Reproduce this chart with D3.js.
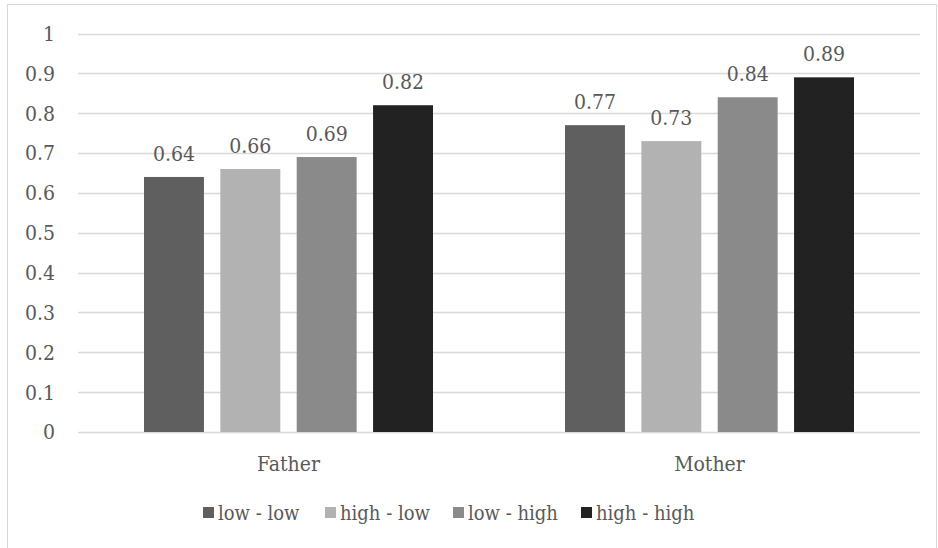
<!DOCTYPE html>
<html><head><meta charset="utf-8">
<script src="https://cdn.jsdelivr.net/npm/d3@7"></script>
<style>
body{margin:0;background:#fff;}
text{font-family:"DejaVu Serif Condensed","DejaVu Serif",serif;font-stretch:condensed;fill:#595959;}
</style></head><body>
<svg id="c" width="938" height="548"></svg>
<script>
const categories = ["Father", "Mother"];
const seriesNames = ["low - low", "high - low", "low - high", "high - high"];
const seriesColors = ["#5f5f5f", "#b2b2b2", "#8a8a8a", "#222222"];
const valuesLowLow = [0.64, 0.77];
const valuesHighLow = [0.66, 0.73];
const valuesLowHigh = [0.69, 0.84];
const valuesHighHigh = [0.82, 0.89];
const yTicks = [0, 0.1, 0.2, 0.3, 0.4, 0.5, 0.6, 0.7, 0.8, 0.9, 1];

const seriesValues = [valuesLowLow, valuesHighLow, valuesLowHigh, valuesHighHigh];
const svg = d3.select("#c");
svg.append("rect").attr("x",7.5).attr("y",4.5).attr("width",929).attr("height",560)
  .attr("fill","#fff").attr("stroke","#d9d9d9").attr("stroke-width",1);

const L=78, R=920, T=33.5, B=432;
const FS = 21;
const x0 = d3.scaleBand().domain(categories).range([L,R]).paddingInner(0).paddingOuter(0);
const x1 = d3.scaleBand().domain(seriesNames).range([66, 355]).paddingInner(0.215).paddingOuter(0);
const y = d3.scaleLinear().domain([0,1]).range([B,T]);

const g = svg.append("g");
g.selectAll("line.grid").data(yTicks).enter().append("line")
  .attr("x1",L).attr("x2",R).attr("y1",d=>Math.round(y(d))+0.5).attr("y2",d=>Math.round(y(d))+0.5)
  .attr("stroke","#d9d9d9").attr("stroke-width",1.3);
g.selectAll("text.yt").data(yTicks).enter().append("text")
  .attr("x",55).attr("y",d=>y(d)).attr("dy","0.35em").attr("text-anchor","end")
  .attr("font-size",FS).text(d=>d3.format("")(d));

categories.forEach((c,ci)=>{
  seriesNames.forEach((s,si)=>{
    const v = seriesValues[si][ci];
    const bx = x0(c)+x1(s);
    g.append("rect").attr("x",bx).attr("y",y(v)).attr("width",x1.bandwidth()).attr("height",B-y(v))
      .attr("fill",seriesColors[si]);
    g.append("text").attr("x",bx+x1.bandwidth()/2).attr("y",y(v)-16).attr("text-anchor","middle")
      .attr("font-size",FS).text(d3.format(".2f")(v));
  });
  g.append("text").attr("x",x0(c)+x0.bandwidth()/2).attr("y",471).attr("text-anchor","middle")
    .attr("font-size",FS).text(c);
});

// legend
const legX = [203, 325, 453, 581];
seriesNames.forEach((s,i)=>{
  const lg = svg.append("g").attr("transform",`translate(${legX[i]},0)`);
  lg.append("rect").attr("x",0).attr("y",507).attr("width",11).attr("height",11).attr("fill",seriesColors[i]);
  lg.append("text").attr("x",15).attr("y",520).attr("font-size",20).text(s);
});
</script></body></html>
